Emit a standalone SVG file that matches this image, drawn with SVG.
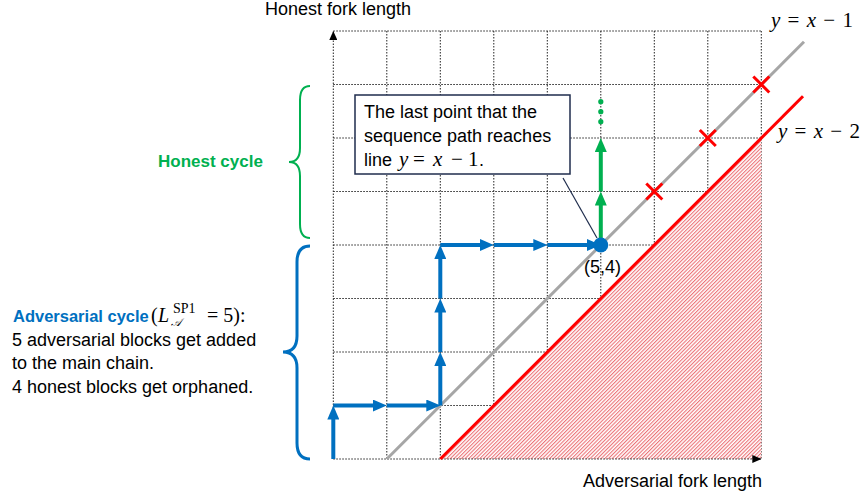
<svg xmlns="http://www.w3.org/2000/svg" width="863" height="497" viewBox="0 0 863 497">
<style>
  .grid{stroke:#222;stroke-width:1;stroke-dasharray:1.5 1.5;fill:none}
  .t{font-family:"Liberation Sans",Arial,sans-serif;font-size:18px;fill:#000}
  .m{font-family:"Liberation Serif","Times New Roman",serif;font-size:21px;fill:#000}
  .i{font-style:italic}
  .blue{stroke:#0070C0;stroke-width:4;fill:none;marker-end:url(#ab)}
  .green{stroke:#00B050;stroke-width:4;fill:none;marker-end:url(#ag)}
  .x{stroke:#FF0000;stroke-width:3;fill:none}
</style>
<defs>
  <marker id="ab" markerUnits="userSpaceOnUse" markerWidth="14" markerHeight="12" refX="7" refY="6" orient="auto">
    <path d="M0,0 L14,6 L0,12 z" fill="#0070C0"/>
  </marker>
  <marker id="ag" markerUnits="userSpaceOnUse" markerWidth="14" markerHeight="12" refX="7" refY="6" orient="auto">
    <path d="M0,0 L14,6 L0,12 z" fill="#00B050"/>
  </marker>
  <marker id="ak" markerUnits="userSpaceOnUse" markerWidth="9" markerHeight="8" refX="9" refY="4" orient="auto">
    <path d="M0,0 L9,4 L0,8 z" fill="#000"/>
  </marker>
  <pattern id="hatch" patternUnits="userSpaceOnUse" width="2.6" height="10" patternTransform="rotate(45)">
    <line x1="0.6" y1="0" x2="0.6" y2="10" stroke="#E8545A" stroke-width="0.9"/>
  </pattern>
</defs>

<g id="background">
  <rect width="863" height="497" fill="#fff"/>
</g>

<g id="grid">
  <path class="grid" d="M386.8,31V459M440.3,31V459M493.8,31V459M547.3,31V459M600.8,31V459M654.3,31V459M707.8,31V459M761.3,31V459"/>
  <path class="grid" d="M333.3,31H761.3M333.3,84.5H761.3M333.3,138H761.3M333.3,191.5H761.3M333.3,245H761.3M333.3,298.5H761.3M333.3,352H761.3M333.3,405.5H761.3"/>
</g>

<g id="hatched-region">
  <polygon points="440.3,459 761.3,459 761.3,138" fill="#fff"/>
  <polygon points="440.3,459 761.3,459 761.3,138" fill="url(#hatch)"/>
</g>

<g id="axes">
  <line class="grid" x1="333.3" y1="459" x2="333.3" y2="31" marker-end="url(#ak)"/>
  <line class="grid" x1="333.3" y1="459" x2="761.3" y2="459" marker-end="url(#ak)"/>
  <text class="t" x="265" y="15">Honest fork length</text>
  <text class="t" x="583" y="487">Adversarial fork length</text>
</g>

<g id="line-x-minus-1">
  <line x1="386.8" y1="459" x2="804" y2="41.8" stroke="#A6A6A6" stroke-width="3"/>
  <text class="m" x="771" y="27" font-size="22" textLength="82" lengthAdjust="spacing"><tspan class="i">y</tspan> = <tspan class="i">x</tspan> − 1</text>
</g>

<g id="line-x-minus-2">
  <line x1="440.3" y1="459" x2="803" y2="96.3" stroke="#FF0000" stroke-width="3"/>
  <text class="m" x="778" y="138" font-size="22" textLength="82" lengthAdjust="spacing"><tspan class="i">y</tspan> = <tspan class="i">x</tspan> − 2</text>
</g>

<g id="red-crosses">
  <path class="x" d="M646.3,183.5L662.3,199.5M662.3,183.5L646.3,199.5"/>
  <path class="x" d="M699.8,130L715.8,146M715.8,130L699.8,146"/>
  <path class="x" d="M753.3,76.5L769.3,92.5M769.3,76.5L753.3,92.5"/>
</g>

<g id="connectors">
  <line class="blue" x1="333.3" y1="459" x2="333.3" y2="412.5"/>
  <line class="blue" x1="333.3" y1="405.5" x2="379.8" y2="405.5"/>
  <line class="blue" x1="386.8" y1="405.5" x2="433.3" y2="405.5"/>
  <line class="blue" x1="440.3" y1="405.5" x2="440.3" y2="359"/>
  <line class="blue" x1="440.3" y1="352" x2="440.3" y2="305.5"/>
  <line class="blue" x1="440.3" y1="298.5" x2="440.3" y2="252"/>
  <line class="blue" x1="440.3" y1="245" x2="486.8" y2="245"/>
  <line class="blue" x1="493.8" y1="245" x2="540.3" y2="245"/>
  <line class="blue" x1="547.3" y1="245" x2="593.8" y2="245"/>
  <line class="green" x1="600.8" y1="245" x2="600.8" y2="198.5"/>
  <line class="green" x1="600.8" y1="191.5" x2="600.8" y2="145"/>
</g>

<g id="green-dots" fill="#00B050">
  <circle cx="600.8" cy="101.7" r="2.6"/>
  <circle cx="600.8" cy="111.7" r="2.6"/>
  <circle cx="600.8" cy="121.7" r="2.6"/>
</g>

<g id="point-5-4">
  <circle cx="600.8" cy="245" r="7.5" fill="#0070C0"/>
  <text class="t" x="584" y="273">(5,4)</text>
</g>

<g id="callout">
  <line x1="563" y1="178" x2="597" y2="238" stroke="#1F2D4D" stroke-width="1.2"/>
  <rect x="355" y="95" width="215" height="79" fill="#fff" stroke="#1F2D4D" stroke-width="1.5"/>
  <text class="t" x="364" y="118">The last point that the</text>
  <text class="t" x="364" y="142">sequence path reaches</text>
  <text class="t" x="364" y="166">line</text>
  <text class="m" x="399" y="166"><tspan class="i">y</tspan><tspan x="413">=</tspan><tspan class="i" x="433">x</tspan><tspan x="451">−</tspan><tspan x="468">1</tspan></text>
  <text class="t" x="479" y="166">.</text>
</g>

<g id="honest-cycle">
  <path d="M310,86 Q300,86 300,100 L300,148 Q300,162 289,162 Q300,162 300,176 L300,224 Q300,238 310,238" stroke="#00B050" stroke-width="2" fill="none"/>
  <text x="158" y="167" font-family="Liberation Sans,Arial,sans-serif" font-size="17" font-weight="bold" fill="#00B050">Honest cycle</text>
</g>

<g id="adversarial-cycle">
  <path d="M310,246 Q297,246 297,262 L297,336 Q297,352 283,352 Q297,352 297,368 L297,443 Q297,459 310,459" stroke="#0070C0" stroke-width="3" fill="none"/>
  <text x="13" y="322" font-family="Liberation Sans,Arial,sans-serif" font-weight="bold" fill="#0070C0" font-size="16.5">Adversarial cycle</text>
  <text class="m" x="151" y="322" style="font-size:20px">(<tspan class="i" x="158">L</tspan><tspan x="173" y="313" style="font-size:14px;font-style:normal">SP1</tspan><tspan class="i" x="171" y="326" style="font-size:11px">𝒜</tspan><tspan x="207" y="322">= 5):</tspan></text>
  <text class="t" x="12" y="346">5 adversarial blocks get added</text>
  <text class="t" x="12" y="369">to the main chain.</text>
  <text class="t" x="12" y="393">4 honest blocks get orphaned.</text>
</g>
</svg>
